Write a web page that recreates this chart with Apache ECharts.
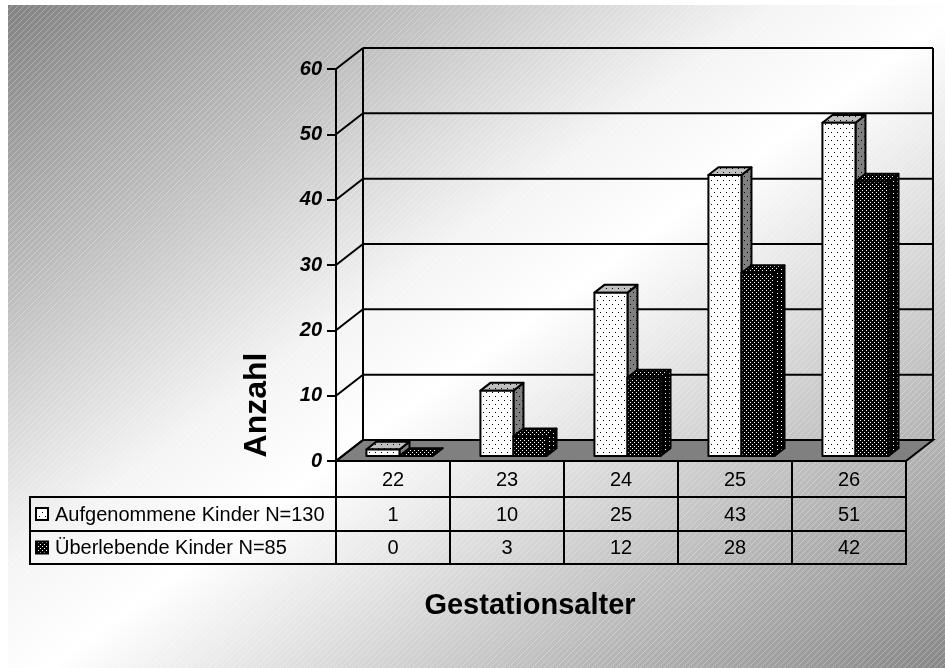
<!DOCTYPE html>
<html>
<head>
<meta charset="utf-8">
<script src="https://cdn.jsdelivr.net/npm/echarts@6/dist/echarts.min.js"></script>
<style>
  html, body { margin: 0; padding: 0; background: #fff; }
  #chart { width: 945px; height: 668px; }
</style>
</head>
<body>
<div id="chart"></div>
<script>
const categories = ['22', '23', '24', '25', '26']
const aufgenommen = [1, 10, 25, 43, 51]
const ueberlebend = [0, 3, 12, 28, 42]
const yTicks = [0, 10, 20, 30, 40, 50, 60]
const seriesNames = ['Aufgenommene Kinder N=130', 'Überlebende Kinder N=85']

const FONT = '"Liberation Sans", Arial, Helvetica, sans-serif'
// depth of the 3d box
const DX = 27
const DY = -21

// small canvas patterns for the dotted fills
function makePattern(w, h, bg, dot, dots) {
  const c = document.createElement('canvas')
  c.width = w
  c.height = h
  const ctx = c.getContext('2d')
  ctx.fillStyle = bg
  ctx.fillRect(0, 0, w, h)
  ctx.fillStyle = dot
  dots.forEach(([x, y]) => ctx.fillRect(x, y, 1, 1))
  return { image: c, repeat: 'repeat' }
}

function makeHatch() {
  const c = document.createElement('canvas')
  c.width = 6
  c.height = 6
  const ctx = c.getContext('2d')
  ctx.strokeStyle = 'rgba(255,255,255,0.28)'
  ctx.lineWidth = 1
  ctx.beginPath()
  ctx.moveTo(-1, 7)
  ctx.lineTo(7, -1)
  ctx.stroke()
  return { image: c, repeat: 'repeat' }
}

const lightFront = makePattern(6, 8, '#ffffff', '#000', [[0, 0], [3, 4]])
const lightTop = makePattern(6, 8, '#c0c0c0', '#000', [[0, 0], [3, 4]])
const lightSide = makePattern(6, 8, '#808080', '#000', [[0, 0], [3, 4]])
const darkFront = makePattern(4, 4, '#000000', '#fff', [[0, 0], [2, 2]])
const darkTop = makePattern(4, 4, '#000000', '#fff', [[0, 0], [2, 2]])
const darkSide = makePattern(4, 4, '#000000', '#fff', [[1, 1]])
const hatch = makeHatch()

const barStyles = [
  { front: lightFront, top: lightTop, side: lightSide },
  { front: darkFront, top: darkTop, side: darkSide }
]

function renderWall(params, api) {
  const cs = params.coordSys
  const t = api.value(1)
  const y = api.coord([0, t])[1]
  const x0 = cs.x
  const x1 = cs.x + cs.width
  const line = { stroke: '#000', lineWidth: 2 }
  const children = []
  if (t === 0) {
    children.push({
      type: 'polygon',
      shape: { points: [[x0, y], [x1, y], [x1 + DX, y + DY], [x0 + DX, y + DY]] },
      style: { fill: '#808080', stroke: '#000', lineWidth: 2 }
    })
  }
  children.push({
    type: 'line',
    shape: { x1: x0, y1: y, x2: x0 + DX, y2: y + DY },
    style: line
  })
  children.push({
    type: 'line',
    shape: { x1: x0 + DX, y1: y + DY, x2: x1 + DX, y2: y + DY },
    style: line
  })
  if (params.dataIndex === 0) {
    children.push({
      type: 'line',
      shape: { x1: x0 + DX, y1: cs.y + DY, x2: x0 + DX, y2: cs.y + cs.height + DY },
      style: line
    })
    children.push({
      type: 'line',
      shape: { x1: x1 + DX, y1: cs.y + DY, x2: x1 + DX, y2: cs.y + cs.height + DY },
      style: line
    })
  }
  return { type: 'group', children }
}

function renderBars(params, api) {
  const i = api.value(0)
  const vals = [api.value(1), api.value(2)]
  const bw = api.size([1, 0])[0]
  const base = api.coord([i, 0])
  const barW = bw * 0.29
  const ox = DX * 0.24
  const oy = DY * 0.24
  const bx = DX * 0.37
  const by = DY * 0.37
  const bottom = base[1] + oy
  const children = []
  vals.forEach((v, s) => {
    const left = base[0] - barW + s * barW + ox
    const top = api.coord([i, v])[1] + oy
    const st = barStyles[s]
    const edge = { stroke: '#000', lineWidth: 2, lineJoin: 'round' }
    children.push({
      type: 'polygon',
      shape: { points: [[left + barW, top], [left + barW + bx, top + by], [left + barW + bx, bottom + by], [left + barW, bottom]] },
      style: Object.assign({ fill: st.side }, edge)
    })
    children.push({
      type: 'polygon',
      shape: { points: [[left, top], [left + barW, top], [left + barW + bx, top + by], [left + bx, top + by]] },
      style: Object.assign({ fill: st.top }, edge)
    })
    if (bottom - top > 0.5) {
      children.push({
        type: 'rect',
        shape: { x: left, y: top, width: barW, height: bottom - top },
        style: Object.assign({ fill: st.front }, edge)
      })
    }
  })
  return { type: 'group', children }
}

const rowH = [36, 34, 33]

function renderTable(params, api) {
  const i = api.value(0)
  const bw = api.size([1, 0])[0]
  const c = api.coord([i, 0])
  const x0 = c[0] - bw / 2
  const texts = [categories[i], String(api.value(1)), String(api.value(2))]
  const children = []
  let y = c[1]
  texts.forEach((t, r) => {
    children.push({
      type: 'rect',
      shape: { x: x0, y: y, width: bw, height: rowH[r] },
      style: { fill: 'none', stroke: '#000', lineWidth: 2 }
    })
    children.push({
      type: 'text',
      style: {
        text: t,
        x: c[0],
        y: y + rowH[r] / 2 + 1,
        align: 'center',
        verticalAlign: 'middle',
        fontSize: 20,
        fontFamily: FONT,
        fill: '#000'
      }
    })
    y += rowH[r]
  })
  return { type: 'group', children }
}

const chart = echarts.init(document.getElementById('chart'), null, { renderer: 'canvas' })

const legendTop = 461 + rowH[0]
const legendGraphics = []
seriesNames.forEach((name, s) => {
  const y = s === 0 ? legendTop : legendTop + rowH[1]
  const h = rowH[s + 1]
  legendGraphics.push({
    type: 'rect',
    z: 5,
    shape: { x: 30, y: y, width: 306, height: h },
    style: { fill: 'none', stroke: '#000', lineWidth: 2 }
  })
  legendGraphics.push({
    type: 'rect',
    z: 5,
    shape: { x: 36, y: y + h / 2 - 6, width: 12, height: 12 },
    style: { fill: s === 0 ? lightFront : darkFront, stroke: '#000', lineWidth: 2 }
  })
  legendGraphics.push({
    type: 'text',
    z: 5,
    style: {
      text: name,
      x: 55,
      y: y + h / 2 + 1,
      verticalAlign: 'middle',
      fontSize: 20,
      fontFamily: FONT,
      fill: '#000'
    }
  })
})

chart.setOption({
  backgroundColor: '#ffffff',
  animation: false,
  graphic: [
    {
      type: 'rect',
      z: -10,
      shape: { x: 8, y: 5, width: 937, height: 663 },
      style: {
        fill: new echarts.graphic.LinearGradient(0, 0, 641, 888, [
          { offset: 0, color: '#808080' },
          { offset: 0.42, color: '#f4f4f4' },
          { offset: 0.52, color: '#ffffff' },
          { offset: 1, color: '#888888' }
        ], true)
      }
    },
    {
      type: 'rect',
      z: -9,
      shape: { x: 8, y: 5, width: 937, height: 663 },
      style: { fill: hatch }
    },
    {
      type: 'text',
      z: 5,
      x: 257,
      y: 405,
      rotation: Math.PI / 2,
      style: {
        text: 'Anzahl',
        align: 'center',
        verticalAlign: 'middle',
        fontSize: 32,
        fontWeight: 'bold',
        fontFamily: FONT,
        fill: '#000'
      }
    },
    {
      type: 'text',
      z: 5,
      x: 530,
      y: 606,
      style: {
        text: 'Gestationsalter',
        align: 'center',
        verticalAlign: 'middle',
        fontSize: 29,
        fontWeight: 'bold',
        fontFamily: FONT,
        fill: '#000'
      }
    }
  ].concat(legendGraphics),
  grid: { left: 336, right: 39, top: 69, bottom: 207 },
  xAxis: {
    type: 'category',
    data: categories,
    axisLine: { show: false },
    axisTick: { show: false },
    axisLabel: { show: false },
    splitLine: { show: false }
  },
  yAxis: {
    type: 'value',
    min: 0,
    max: 60,
    interval: 10,
    axisLine: { show: true, lineStyle: { color: '#000', width: 2 } },
    axisTick: { show: true, length: 9, lineStyle: { color: '#000', width: 2 } },
    axisLabel: {
      color: '#000',
      fontSize: 20,
      fontWeight: 'bold',
      fontStyle: 'italic',
      fontFamily: FONT,
      margin: 14
    },
    splitLine: { show: false }
  },
  series: [
    {
      type: 'custom',
      name: 'walls',
      z: 1,
      silent: true,
      renderItem: renderWall,
      encode: { x: 0, y: 1 },
      data: yTicks.map(t => [0, t])
    },
    {
      type: 'custom',
      name: 'bars',
      z: 3,
      renderItem: renderBars,
      encode: { x: 0, y: [1, 2] },
      data: categories.map((c, i) => [i, aufgenommen[i], ueberlebend[i]])
    },
    {
      type: 'custom',
      name: 'table',
      z: 4,
      silent: true,
      renderItem: renderTable,
      encode: { x: 0, y: [1, 2] },
      clip: false,
      data: categories.map((c, i) => [i, aufgenommen[i], ueberlebend[i]])
    }
  ]
})
</script>
</body>
</html>
